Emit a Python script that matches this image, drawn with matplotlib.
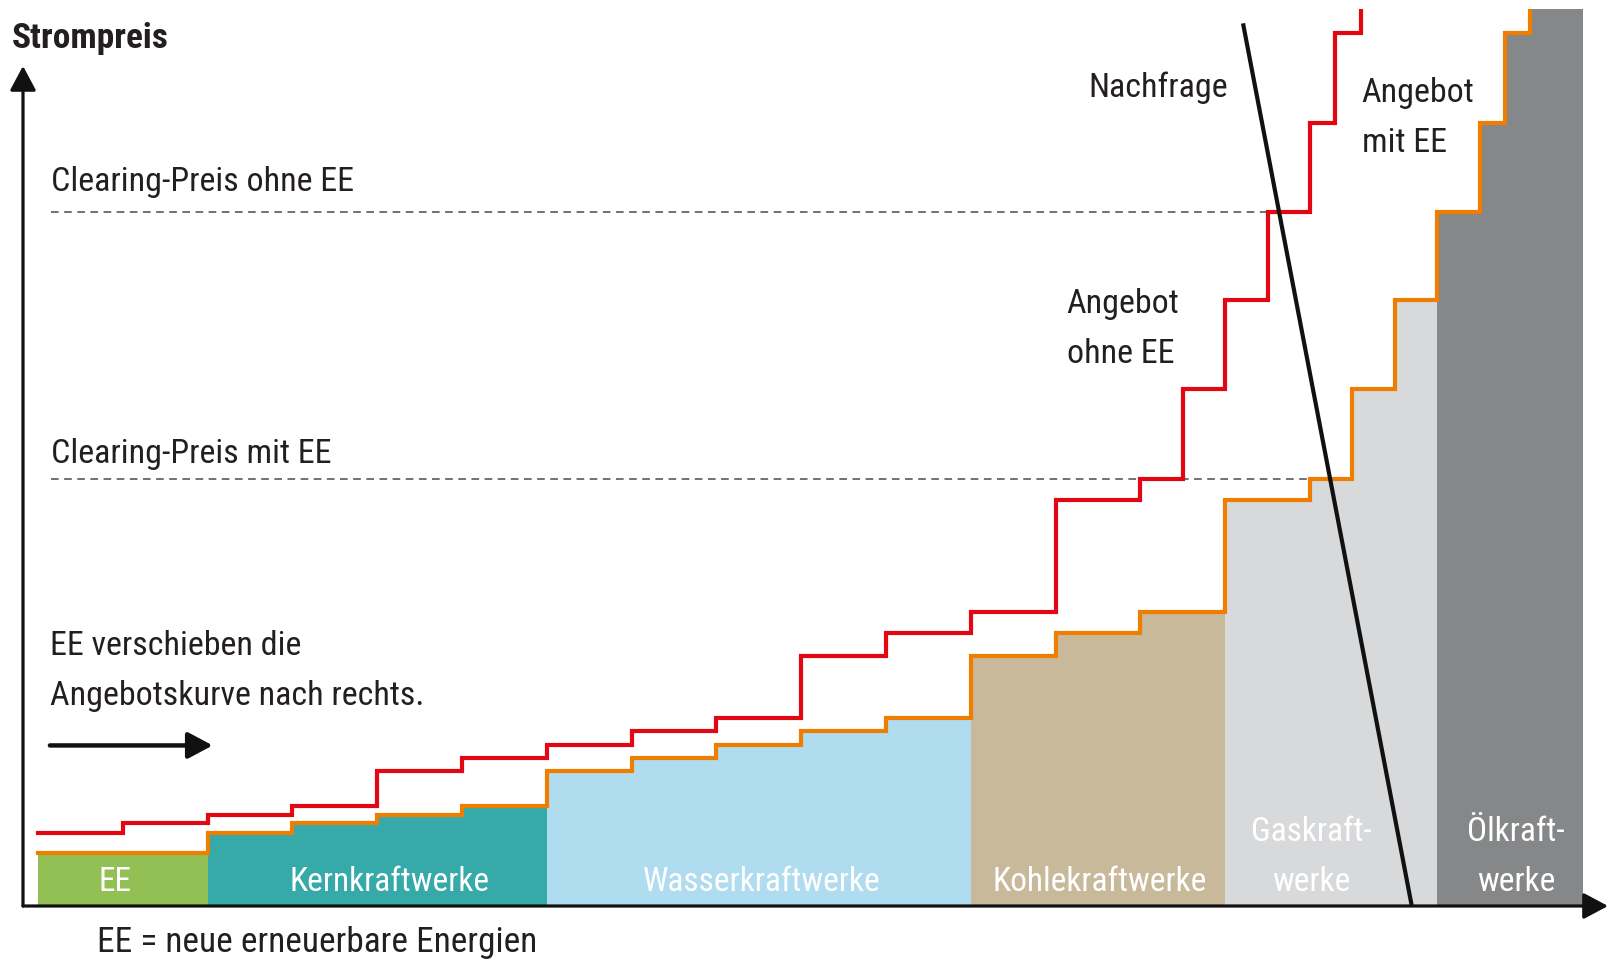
import matplotlib
matplotlib.use("Agg")
import matplotlib.pyplot as plt
import numpy as np

# ---------------- data ----------------
# capacity (width) and price of each power-plant step, merit order
ee_widths = [2.0]
ee_prices = [5.9]
kern_widths = [1.0, 1.0, 1.0, 1.0]
kern_prices = [8.1, 9.3, 10.2, 11.1]
wasser_widths = [1.0, 1.0, 1.0, 1.0, 1.0]
wasser_prices = [15.1, 16.5, 18.0, 19.5, 21.0]
kohle_widths = [1.0, 1.0, 1.0]
kohle_prices = [27.9, 30.4, 32.8]
gas_widths = [1.0, 0.5, 0.5, 0.5]
gas_prices = [45.3, 47.6, 57.6, 67.6]
oel_widths = [0.5, 0.3, 0.3, 0.62]
oel_prices = [77.4, 87.3, 97.3, 115.0]

group_labels = ["EE", "Kernkraftwerke", "Wasserkraftwerke", "Kohlekraftwerke",
                "Gaskraft-\nwerke", "Ölkraft-\nwerke"]

# demand line (quantity, price)
demand_q = [14.21, 16.20]
demand_p = [98.4, 0.0]

clearing_ohne_ee = 77.4
clearing_mit_ee = 47.6

# ---------------- style ----------------
FONT = ["Roboto Condensed", "Archivo Narrow", "IBM Plex Sans Condensed",
        "Pathway Gothic One", "DejaVu Sans"]
plt.rcParams["font.family"] = FONT
TXT = "#231f20"
group_colors = ["#93c054", "#36a9a9", "#afdcee", "#c9b99b", "#d8d9db", "#868788"]
RED = "#e30613"
ORANGE = "#ef7d00"

fig = plt.figure(figsize=(16.08, 9.63), dpi=100)
W, H = 1608, 963
ax = fig.add_axes([23 / W, 57 / H, 1585 / W, 897 / H])
ax.set_xlim(-0.177, 18.514)
ax.set_ylim(0, 100)
ax.axis("off")

groups = [
    (ee_widths, ee_prices),
    (kern_widths, kern_prices),
    (wasser_widths, wasser_prices),
    (kohle_widths, kohle_prices),
    (gas_widths, gas_prices),
    (oel_widths, oel_prices),
]


def build_curve(group_list):
    edges = [0.0]
    prices = []
    for ws, ps in group_list:
        for w, p in zip(ws, ps):
            edges.append(edges[-1] + w)
            prices.append(p)
    return np.array(edges), np.array(prices)


# filled blocks (supply with EE)
x0 = 0.0
for (ws, ps), col in zip(groups, group_colors):
    e = x0 + np.concatenate([[0.0], np.cumsum(ws)])
    yv = np.concatenate([ps, [ps[-1]]])
    ax.fill_between(e, 0, yv, step="post", color=col, lw=0, zorder=1)
    x0 = e[-1]

edges_mit, prices_mit = build_curve(groups)
edges_ohne, prices_ohne = build_curve(groups[1:])

# clearing price dashed lines
for cp, edges, prices in [(clearing_ohne_ee, edges_ohne, prices_ohne),
                          (clearing_mit_ee, edges_mit, prices_mit)]:
    idx = int(np.argmax(prices >= cp - 1e-9))
    ax.plot([0.15, edges[idx]], [cp, cp], color="#4a4a4a", lw=1.1,
            ls=(0, (5, 3.6)), zorder=2)

# supply curves
ax.step(edges_ohne, np.append(prices_ohne, prices_ohne[-1]), where="post",
        color=RED, lw=3.0, zorder=4, solid_joinstyle="miter")
ax.step(edges_mit, np.append(prices_mit, prices_mit[-1]), where="post",
        color=ORANGE, lw=3.0, zorder=5, solid_joinstyle="miter")

# demand
ax.plot(demand_q, demand_p, color="#111111", lw=3.0, zorder=6,
        solid_capstyle="butt")

# axes arrows
ax.annotate("", xy=(0, 0.9365), xytext=(0, 0), xycoords="axes fraction",
            arrowprops=dict(arrowstyle="-|>,head_length=0.75,head_width=0.4",
                            lw=2.3, color="#111111", mutation_scale=20,
                            shrinkA=0, shrinkB=0), zorder=7)
ax.annotate("", xy=(1.0, 0), xytext=(0, 0), xycoords="axes fraction",
            arrowprops=dict(arrowstyle="-|>,head_length=0.75,head_width=0.4",
                            lw=2.3, color="#111111", mutation_scale=20,
                            shrinkA=0, shrinkB=0), zorder=7)

# shift arrow
ax.annotate("", xy=(2.06, 17.9), xytext=(0.14, 17.9), xycoords="data",
            arrowprops=dict(arrowstyle="-|>,head_length=0.75,head_width=0.4",
                            lw=3.2, color="#111111", mutation_scale=20,
                            shrinkA=0, shrinkB=0), zorder=7)

# texts
fs = 24.5
ax.text(0.153, 79.7, "Clearing-Preis ohne EE", fontsize=fs, color=TXT, va="baseline")
ax.text(0.153, 49.4, "Clearing-Preis mit EE", fontsize=fs, color=TXT, va="baseline")
ax.text(12.39, 90.2, "Nachfrage", fontsize=fs, color=TXT, va="baseline")
ax.text(12.13, 66.1, "Angebot", fontsize=fs, color=TXT, va="baseline")
ax.text(12.13, 60.5, "ohne EE", fontsize=fs, color=TXT, va="baseline")
ax.text(15.61, 89.6, "Angebot", fontsize=fs, color=TXT, va="baseline")
ax.text(15.61, 84.1, "mit EE", fontsize=fs, color=TXT, va="baseline")
ax.text(0.14, 28.0, "EE verschieben die", fontsize=fs, color=TXT, va="baseline")
ax.text(0.14, 22.4, "Angebotskurve nach rechts.", fontsize=fs, color=TXT, va="baseline")

label_x = [0.91, 4.15, 8.54, 12.52, 15.02, 17.43]
lfs = 24
for lab, lx in zip(group_labels, label_x):
    lines = lab.split("\n")
    if len(lines) == 1:
        ax.text(lx, 1.65, lines[0], fontsize=lfs, color="white", ha="center",
                va="baseline", zorder=8)
    else:
        ax.text(lx, 7.3, lines[0], fontsize=lfs, color="white", ha="center",
                va="baseline", zorder=8)
        ax.text(lx, 1.65, lines[1], fontsize=lfs, color="white", ha="center",
                va="baseline", zorder=8)

fig.text(12 / W, 1 - 48 / H, "Strompreis", fontsize=25.5, fontweight="bold",
         color=TXT, va="baseline")
fig.text(97 / W, 1 - 952 / H, "EE = neue erneuerbare Energien", fontsize=25.4,
         color=TXT, va="baseline")

fig.savefig("out.png", dpi=100)
